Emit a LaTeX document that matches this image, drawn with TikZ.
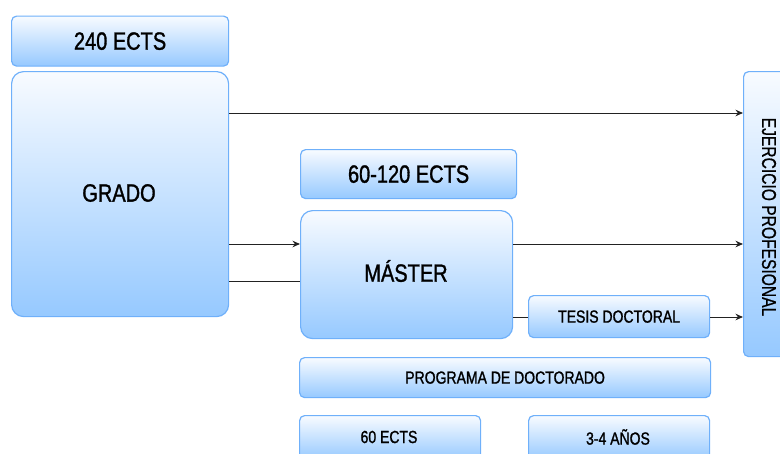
\documentclass[tikz,border=0pt]{standalone}
\usepackage{fontspec}
\setmainfont{Liberation Sans}
\newfontfamily\lblfont[FakeStretch=0.8,FakeBold=1.2]{Liberation Sans}
\newfontfamily\ejfont[FakeStretch=0.78,FakeBold=0.8]{Liberation Sans}
\usetikzlibrary{arrows.meta}
\definecolor{boxtop}{HTML}{F8FBFF}
\definecolor{boxbot}{HTML}{96C9FF}
\definecolor{boxedge}{HTML}{6FB0FA}
\definecolor{linec}{HTML}{222222}
\tikzset{
  box/.style={draw=boxedge, line width=1.2pt, top color=boxtop, bottom color=boxbot,
    rounded corners=5pt, anchor=north west, inner sep=0pt, text=black},
  bigbox/.style={box, rounded corners=12pt},
  biglbl/.style={font=\lblfont\fontsize{25}{28}\selectfont},
  smalllbl/.style={font=\lblfont\fontsize{17.5}{20}\selectfont},
  arr/.style={draw=linec, line width=1pt, -{Stealth[length=7.5pt,width=6.5pt]}},
  ln/.style={draw=linec, line width=1pt},
}
\begin{document}
\begin{tikzpicture}[x=1pt,y=-1pt]
\useasboundingbox (0,0) rectangle (780,453);
% boxes
\node[box, minimum width=217, minimum height=50, biglbl] (ects240) at (11,15.5) {240 ECTS};
\node[bigbox, minimum width=217, minimum height=245] (grado) at (11,71) {};
\node[biglbl] (gradolbl) at (119,193) {GRADO};
\node[box, minimum width=216, minimum height=49, biglbl] (ects60120) at (300,149) {60-120 ECTS};
\node[bigbox, minimum width=212, minimum height=128] (master) at (300,210) {};
\node[biglbl] (masterlbl) at (406,271) {MÁSTER};
\node[box, minimum width=181, minimum height=42, smalllbl] (tesis) at (528,295) {TESIS DOCTORAL};
\node[box, minimum width=52, minimum height=285] (ejer) at (743,71) {};
\node[rotate=-90, font=\ejfont\fontsize{20}{24}\selectfont] (ejerlbl) at (769,217) {EJERCICIO PROFESIONAL};
\node[box, minimum width=411, minimum height=40, smalllbl] (prog) at (299,357) {PROGRAMA DE DOCTORADO};
\node[box, minimum width=181, minimum height=44] (ects60) at (299,415) {};
\node[smalllbl] (ects60lbl) at (389,437) {60 ECTS};
\node[box, minimum width=181, minimum height=44] (anios) at (528,415) {};
\node[smalllbl] (anioslbl) at (618,437) {3-4 AÑOS};
% connectors
\coordinate (y1) at (0,113);
\coordinate (y2) at (0,244);
\coordinate (y3) at (0,281);
\coordinate (y4) at (0,317);
\draw[arr] (grado.east |- y1) -- (ejer.west |- y1);
\draw[arr] (grado.east |- y2) -- (master.west |- y2);
\draw[ln] (grado.east |- y3) -- (master.west |- y3);
\draw[arr] (master.east |- y2) -- (ejer.west |- y2);
\draw[ln] (master.east |- y4) -- (tesis.west |- y4);
\draw[arr] (tesis.east |- y4) -- (ejer.west |- y4);
\end{tikzpicture}
\end{document}
